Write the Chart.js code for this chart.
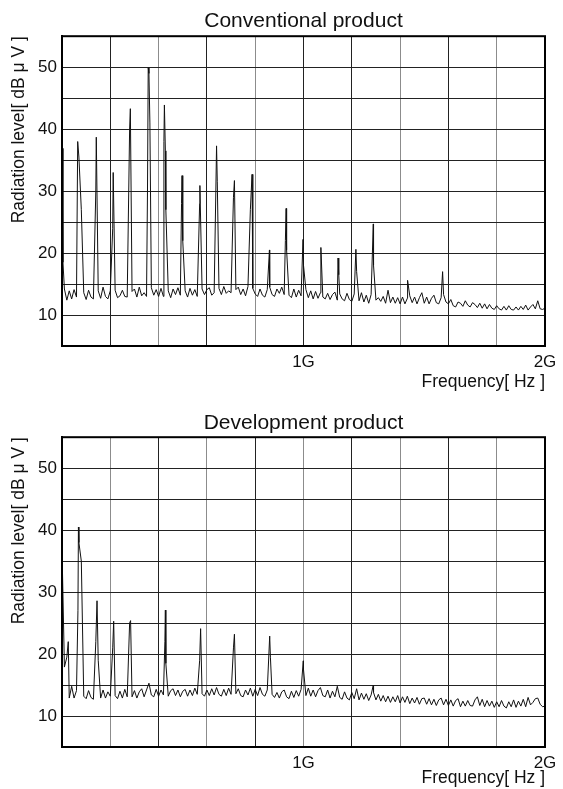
<!DOCTYPE html>
<html>
<head>
<meta charset="utf-8">
<script src="https://cdn.jsdelivr.net/npm/chart.js@4.4.1/dist/chart.umd.min.js"></script>
<style>
  html, body { margin: 0; padding: 0; background: #fff; overflow: hidden; }
  canvas { position: absolute; left: 0; }
  #chart1 { top: 0; }
  #chart2 { top: 397px; }
</style>
</head>
<body>
<canvas id="chart1" width="563" height="397"></canvas>
<canvas id="chart2" width="563" height="392"></canvas>
<script>
const STEP_MHZ = 10;

const convTrace = [
  36.9, 14.2, 12.4, 13.9, 12.6, 14.1, 12.9, 35.5, 27.0, 13.6,
  12.5, 14.0, 12.9, 12.6, 30.0, 13.9, 12.7, 14.5, 13.0, 12.6,
  13.9, 24.0, 14.0, 12.8, 13.1, 14.0, 13.0, 12.9, 40.0, 13.8,
  14.2, 12.9, 14.5, 13.1, 13.6, 13.0, 49.0, 14.4, 13.2, 14.1,
  13.0, 14.3, 13.0, 27.0, 13.9, 12.8, 14.2, 13.3, 14.4, 13.2,
  22.0, 13.9, 12.9, 14.3, 13.2, 14.1, 13.0, 28.0, 14.2, 13.3,
  14.1, 14.4, 13.2, 13.6, 37.3, 14.3, 13.3, 14.6, 13.5, 13.9,
  13.6, 29.0, 14.1, 14.5, 13.3, 14.2, 13.1, 14.6, 27.0, 14.3,
  13.4, 13.0, 14.2, 13.2, 12.9, 14.1, 14.5, 13.3, 13.0, 14.2,
  13.5, 14.5, 13.3, 20.5, 13.2, 12.8, 14.2, 12.9, 14.0, 13.1,
  18.0, 14.1, 12.8, 13.9, 12.6, 13.8, 12.7, 13.6, 12.9, 12.6,
  13.5, 12.5, 13.3, 13.7, 12.4, 13.4, 12.6, 12.3, 13.5, 12.5,
  12.2, 13.4, 17.0, 12.3, 13.6, 12.1, 13.2, 11.9, 13.3, 18.0,
  12.4, 12.8, 12.2, 13.0, 11.9, 14.0, 12.0, 12.9, 11.9, 12.8,
  11.8, 12.9, 11.8, 12.7, 13.1, 12.0, 12.9, 11.8, 12.8, 13.6,
  11.9, 12.9, 11.8, 12.7, 13.2, 12.0, 11.8, 12.8, 13.3, 12.1,
  11.8, 12.5, 11.5, 11.3, 12.1, 11.9, 11.4, 12.3, 11.6, 11.3,
  12.0, 11.7, 11.2, 11.9, 11.1, 11.8, 11.0, 11.7, 11.1, 10.9,
  11.5, 11.0, 10.8, 11.4, 10.8, 11.5, 10.9, 10.8, 11.3, 10.8,
  11.4, 10.9, 11.6, 10.8, 11.3, 11.7, 11.0, 12.3, 11.0, 10.9,
  11.1
];
// spike tips that fall between samples: [MHz, dBuV]
const convSpikes = [
  [4, 18.5], [65, 38.0], [142, 38.7], [212, 33.0], [283, 43.3],
  [354, 30.0], [357, 49.9], [364, 41.0], [422, 38.0], [424, 43.9], [428, 36.5],
  [495, 28.0], [497, 32.5], [571, 30.9], [637, 30.0], [643, 31.5],
  [714, 31.7], [787, 32.7], [859, 20.5], [925, 22.0], [928, 27.2],
  [998, 22.2], [1072, 20.9], [1143, 19.2], [1146, 16.5], [1217, 20.6],
  [1289, 24.7], [1431, 15.6], [1576, 17.0]
];

const devTrace = [
  37.0, 17.9, 19.5, 12.9, 14.8, 12.9, 14.1, 38.0, 35.0, 13.2,
  12.8, 14.1, 13.0, 12.7, 22.0, 19.0, 12.9, 14.2, 12.9, 13.9,
  13.2, 21.0, 13.3, 12.8, 14.0, 12.9, 14.3, 13.1, 25.0, 13.1,
  14.1, 12.9, 13.9, 14.4, 13.1, 14.2, 15.3, 13.4, 13.1, 14.3,
  13.2, 14.2, 13.4, 18.5, 13.2, 14.1, 14.4, 13.3, 14.2, 13.1,
  14.0, 14.3, 13.2, 14.2, 13.3, 14.5, 13.5, 19.0, 13.6, 13.2,
  14.2, 13.3, 14.4, 13.4, 14.6, 13.5, 13.2, 14.3, 13.3, 14.5,
  13.5, 21.0, 13.6, 14.4, 13.3, 13.1, 14.2, 13.4, 14.5, 13.2,
  14.3, 13.3, 14.6, 13.5, 13.2, 14.2, 22.9, 13.5, 13.0, 13.8,
  12.9, 13.9, 14.2, 13.1, 12.8, 14.0, 13.0, 14.1, 13.2, 14.3,
  17.5, 13.3, 14.5, 13.2, 14.2, 13.1, 14.1, 14.6, 13.3, 13.1,
  14.2, 12.9, 14.0, 13.1, 14.8, 13.0, 12.7, 13.9, 12.9, 12.6,
  13.8, 12.8, 14.4, 12.6, 13.7, 12.7, 13.6, 12.5, 13.4, 13.8,
  12.6, 13.5, 12.4, 13.3, 12.3, 13.2, 12.2, 13.1, 12.3, 13.3,
  12.1, 13.1, 12.2, 13.2, 12.0, 12.9, 12.1, 13.0, 11.9, 12.8,
  12.9, 11.9, 12.8, 11.8, 12.7, 11.7, 12.6, 12.9, 11.8, 12.7,
  11.7, 12.6, 11.6, 12.5, 12.8, 11.5, 12.4, 11.6, 12.5, 11.7,
  11.6, 12.6, 13.1, 11.7, 12.7, 11.5, 12.5, 11.6, 12.4, 11.4,
  12.3, 11.5, 12.5, 11.6, 11.3, 12.3, 11.5, 12.6, 11.4, 12.4,
  11.6, 12.7, 11.5, 13.0, 11.8, 12.2, 12.8, 12.9, 11.9, 11.5,
  11.6
];
const devSpikes = [
  [26, 22.0], [66, 27.0], [68, 40.5], [145, 28.6], [214, 25.3], [284, 25.4],
  [426, 22.0], [428, 27.1], [574, 24.1], [714, 23.2], [863, 19.5],
  [999, 18.9], [1289, 15.0]
];

const yTickLabels = [10, 20, 30, 40, 50];
const xTickValues = [1, 2];
const xTickText = ['1G', '2G'];

const FONT = "'Liberation Sans', Arial, sans-serif";
const INK = '#111';

function buildPoints(trace, spikes) {
  const pts = trace.map((v, i) => ({ x: i * STEP_MHZ / 1000, y: v }));
  spikes.forEach(([mhz, db]) => pts.push({ x: mhz / 1000, y: db }));
  pts.sort((a, b) => a.x - b.x);
  return pts;
}

// heavier frame round the plot area
const frame = {
  id: 'frame',
  afterDraw(chart) {
    const { ctx, chartArea: a } = chart;
    ctx.save();
    ctx.strokeStyle = '#000';
    ctx.lineWidth = 2;
    ctx.strokeRect(a.left, a.top, a.right - a.left, a.bottom - a.top);
    ctx.restore();
  }
};

function makeChart(id, title, trace, spikes, grayLines, lay) {
  const font = { family: FONT, size: 17 };
  const titleFont = { family: FONT, size: 17.5 };
  return new Chart(document.getElementById(id), {
    type: 'line',
    data: {
      datasets: [{
        data: buildPoints(trace, spikes),
        borderColor: INK, borderWidth: 1, pointRadius: 0, tension: 0, fill: false
      }]
    },
    options: {
      responsive: false, animation: false, events: [],
      layout: { padding: { left: 0, right: 18, top: 0, bottom: 0 } },
      plugins: {
        legend: { display: false },
        tooltip: { enabled: false },
        title: {
          display: true, fullSize: false, text: title, color: INK,
          font: { family: FONT, size: 21, weight: 'normal' },
          padding: { top: lay.titleTop, bottom: lay.titleBottom }
        }
      },
      scales: {
        x: {
          type: 'linear', min: 0, max: 2,
          afterFit: s => { s.height = lay.xAxisHeight; },
          ticks: {
            stepSize: 0.2, autoSkip: false, maxRotation: 0, padding: 6, color: INK, font,
            callback: v => {
              const k = xTickValues.findIndex(t => Math.abs(t - v) < 1e-6);
              return k >= 0 ? xTickText[k] : '';
            }
          },
          grid: {
            drawTicks: false, lineWidth: 1,
            color: c => grayLines.some(g => Math.abs(g - c.tick.value) < 1e-6) ? '#8c8c8c' : '#222'
          },
          border: { color: '#000', width: 2 },
          title: {
            display: true, text: 'Frequency[ Hz ]', align: 'end', color: INK, font: titleFont,
            padding: { top: 0, bottom: lay.xTitleBottom }
          }
        },
        y: {
          min: 5, max: 55,
          afterFit: s => { s.width = 62; },
          ticks: {
            stepSize: 5, autoSkip: false, padding: 5, color: INK, font,
            callback: v => yTickLabels.includes(v) ? String(v) : ''
          },
          grid: { drawTicks: false, lineWidth: 1, color: '#222' },
          border: { color: '#000', width: 2 },
          title: {
            display: true, text: 'Radiation level[ dB μ V ]', align: 'end', color: INK, font: titleFont,
            padding: { top: 9, bottom: 0 }
          }
        }
      }
    },
    plugins: [frame]
  });
}

makeChart('chart1', 'Conventional product', convTrace, convSpikes, [0.4, 0.8, 1.4, 1.8],
  { titleTop: 9, titleBottom: 2, xAxisHeight: 51, xTitleBottom: 4.5 });
makeChart('chart2', 'Development product', devTrace, devSpikes, [0.2, 0.6, 1.0, 1.4, 1.8],
  { titleTop: 14, titleBottom: 1, xAxisHeight: 42, xTitleBottom: 0 });
</script>
</body>
</html>
